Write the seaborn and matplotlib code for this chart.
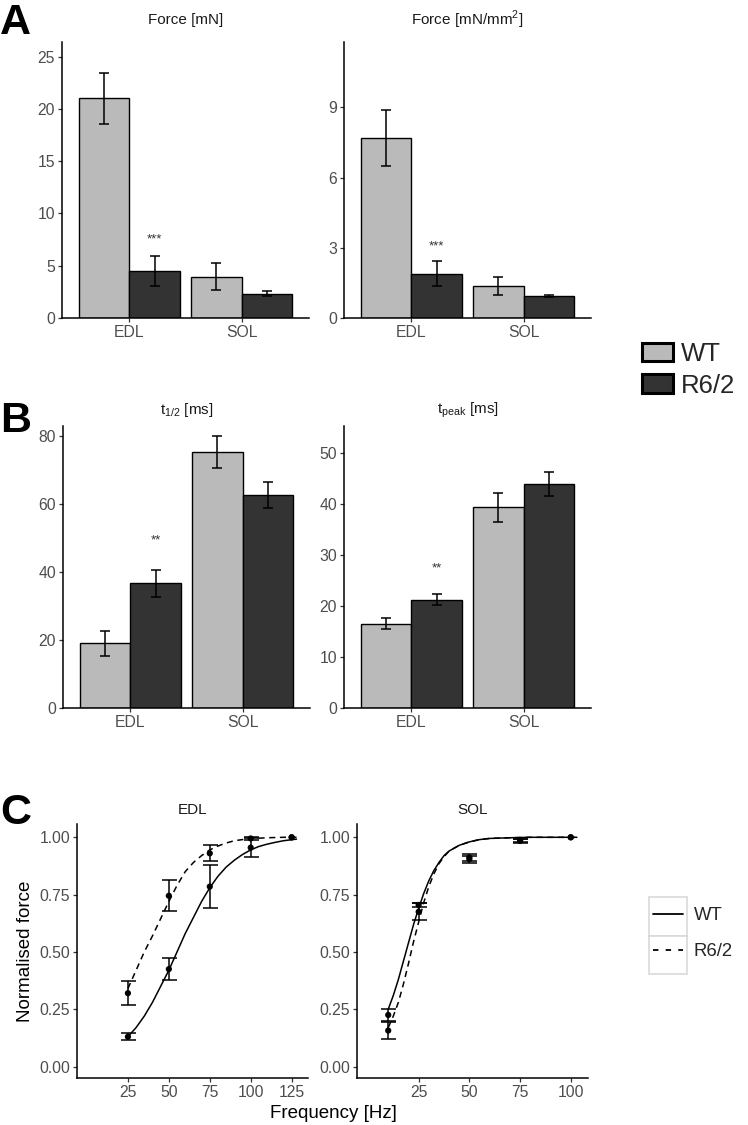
import numpy as np
import pandas as pd
import matplotlib
matplotlib.use("Agg")
import matplotlib.pyplot as plt
import seaborn as sns
from matplotlib.patches import Patch, Rectangle
from matplotlib.lines import Line2D

# ---- data ----
muscles = ["EDL", "SOL"]
genotypes = ["WT", "R6/2"]

force_wt = [21.0, 3.95]
force_wt_err = [2.45, 1.28]
force_r62 = [4.5, 2.33]
force_r62_err = [1.4, 0.24]

spec_force_wt = [7.70, 1.37]
spec_force_wt_err = [1.19, 0.39]
spec_force_r62 = [1.89, 0.94]
spec_force_r62_err = [0.53, 0.06]

thalf_wt = [19.0, 75.4]
thalf_wt_err = [3.6, 4.8]
thalf_r62 = [36.7, 62.8]
thalf_r62_err = [4.0, 3.85]

tpeak_wt = [16.5, 39.3]
tpeak_wt_err = [1.05, 2.85]
tpeak_r62 = [21.2, 43.8]
tpeak_r62_err = [1.1, 2.35]

# frequency-force data
edl_freq = [25, 50, 75, 100, 125]
edl_wt_mean = [0.13, 0.425, 0.785, 0.955, 1.0]
edl_wt_err = [0.015, 0.048, 0.093, 0.042, 0.0]
edl_r62_mean = [0.32, 0.745, 0.93, 0.995, 1.0]
edl_r62_err = [0.053, 0.067, 0.035, 0.008, 0.0]

sol_freq = [10, 25, 50, 75, 100]
sol_wt_mean = [0.225, 0.705, 0.912, 0.985, 1.0]
sol_wt_err = [0.027, 0.01, 0.017, 0.008, 0.0]
sol_r62_mean = [0.157, 0.675, 0.905, 0.985, 1.0]
sol_r62_err = [0.038, 0.037, 0.015, 0.006, 0.0]

# fitted curves
edl_fit_x = [25, 30, 35, 40, 45, 50, 55, 60, 65, 70, 75, 80, 85, 90, 95, 100, 105, 110, 115, 120, 128]
edl_wt_fit = [0.13, 0.17, 0.22, 0.28, 0.35, 0.42, 0.50, 0.58, 0.65, 0.72, 0.78, 0.83, 0.87, 0.90,
              0.925, 0.945, 0.96, 0.97, 0.978, 0.985, 0.992]
edl_r62_fit = [0.34, 0.42, 0.50, 0.57, 0.645, 0.72, 0.79, 0.85, 0.89, 0.92, 0.945, 0.962, 0.975,
               0.985, 0.99, 0.994, 0.996, 0.998, 0.999, 1.0, 1.0]

sol_fit_x = [10, 12.5, 15, 17.5, 20, 22.5, 25, 27.5, 30, 32.5, 35, 37.5, 40, 45, 50, 55, 60, 70, 80, 103]
sol_wt_fit = [0.25, 0.31, 0.38, 0.46, 0.54, 0.62, 0.69, 0.755, 0.81, 0.855, 0.89, 0.92, 0.94,
              0.965, 0.98, 0.99, 0.995, 0.998, 1.0, 1.0]
sol_r62_fit = [0.17, 0.22, 0.28, 0.36, 0.45, 0.545, 0.63, 0.715, 0.785, 0.84, 0.885, 0.915, 0.94,
               0.965, 0.98, 0.99, 0.995, 0.998, 1.0, 1.0]

# ---- style ----
sns.set_theme(style="ticks")
plt.rcParams["font.family"] = ["Liberation Sans", "DejaVu Sans"]
plt.rcParams["mathtext.fontset"] = "custom"
plt.rcParams["mathtext.rm"] = "Liberation Sans"

palette = {"WT": "#bababa", "R6/2": "#333333"}
TICK_TXT = "#4d4d4d"
TITLE_TXT = "#1a1a1a"

W, H = 748, 1125
fig = plt.figure(figsize=(W / 100, H / 100), dpi=100)


def px_axes(x0, x1, y0, y1):
    return fig.add_axes([x0 / W, 1 - y1 / H, (x1 - x0) / W, (y1 - y0) / H])


def style_axes(ax):
    sns.despine(ax=ax)
    for s in ["left", "bottom"]:
        ax.spines[s].set_linewidth(1.1)
        ax.spines[s].set_color("black")
    ax.tick_params(direction="out", length=3, width=0.9, color="#333333",
                   labelcolor=TICK_TXT, labelsize=11.3, pad=2)


def bar_panel(ax, wt, wt_err, r62, r62_err, ylim, yticks, title, title_y, star, star_y):
    df = pd.DataFrame({
        "Muscle": muscles * 2,
        "Genotype": ["WT"] * 2 + ["R6/2"] * 2,
        "value": wt + r62,
        "err": wt_err + r62_err,
    })
    sns.barplot(data=df, x="Muscle", y="value", hue="Genotype", hue_order=genotypes,
                order=muscles, palette=palette, width=0.9, gap=0, errorbar=None,
                edgecolor="black", linewidth=1.0, legend=False, ax=ax)
    for cont, g in zip(ax.containers, genotypes):
        sub = df[df["Genotype"] == g].set_index("Muscle").loc[muscles]
        xs = [b.get_x() + b.get_width() / 2 for b in cont]
        ax.errorbar(xs, sub["value"], yerr=sub["err"], fmt="none", ecolor="black",
                    elinewidth=1.1, capsize=3.3, capthick=1.1, zorder=5)
        if g == "R6/2":
            ax.text(xs[0], star_y, star, ha="center", va="center", fontsize=9.5,
                    color="#333333")
    ax.set_xlim(-0.6, 1.6)
    ax.set_ylim(*ylim)
    ax.set_yticks(yticks)
    ax.set_xlabel("")
    ax.set_ylabel("")
    ax.text(0.5, title_y, title, transform=ax.transAxes, ha="center", va="center",
            fontsize=11, color=TITLE_TXT)
    style_axes(ax)


# ---- panel A ----
axA1 = px_axes(62, 309, 42, 318)
bar_panel(axA1, force_wt, force_wt_err, force_r62, force_r62_err, (0, 26.4),
          [0, 5, 10, 15, 20, 25], "Force [mN]", 1.08, "***", 7.5)
axA2 = px_axes(344, 591, 42, 318)
bar_panel(axA2, spec_force_wt, spec_force_wt_err, spec_force_r62, spec_force_r62_err,
          (0, 11.8), [0, 3, 6, 9], r"Force [mN/mm$^{\mathregular{2}}$]", 1.08, "***", 3.05)

# ---- panel B ----
axB1 = px_axes(63, 310, 426, 708)
bar_panel(axB1, thalf_wt, thalf_wt_err, thalf_r62, thalf_r62_err, (0, 83),
          [0, 20, 40, 60, 80], r"t$_{\mathregular{1/2}}$ [ms]", 1.055, "**", 49.4)
axB2 = px_axes(344, 591, 426, 708)
bar_panel(axB2, tpeak_wt, tpeak_wt_err, tpeak_r62, tpeak_r62_err, (0, 55.2),
          [0, 10, 20, 30, 40, 50], r"t$_{\mathregular{peak}}$ [ms]", 1.055, "**", 27.4)

bar_handles = [Patch(facecolor=palette[g], edgecolor="black", linewidth=2.2) for g in genotypes]
fig.legend(bar_handles, genotypes, loc="upper left", bbox_to_anchor=(642 / W, 1 - 342 / H),
           frameon=False, fontsize=18.5, borderpad=0, borderaxespad=0,
           handlelength=1.22, handleheight=0.75, handletextpad=0.3, labelspacing=0.3)


# ---- panel C ----
def curve_panel(ax, freq, wt, wt_err, r62, r62_err, fit_x, wt_fit, r62_fit, xlim, xticks, title):
    sns.lineplot(x=fit_x, y=wt_fit, ax=ax, color="black", linewidth=1.1)
    sns.lineplot(x=fit_x, y=r62_fit, ax=ax, color="black", linewidth=1.1,
                 linestyle=(0, (4, 3)))
    for m, e in [(wt, wt_err), (r62, r62_err)]:
        f = np.array(freq)
        m = np.array(m)
        e = np.array(e)
        keep = e > 0
        ax.errorbar(f[keep], m[keep], yerr=e[keep], fmt="none", ecolor="black",
                    elinewidth=1.1, capsize=5.4, capthick=1.1, zorder=4)
        sns.scatterplot(x=f, y=m, ax=ax, color="black", s=20, edgecolor="none", zorder=5)
    ax.set_xlim(*xlim)
    ax.set_ylim(-0.05, 1.058)
    ax.set_xticks(xticks)
    ax.set_yticks([0, 0.25, 0.5, 0.75, 1.0])
    ax.set_yticklabels(["0.00", "0.25", "0.50", "0.75", "1.00"])
    ax.set_xlabel("")
    ax.set_ylabel("")
    ax.text(0.5, 1.055, title, transform=ax.transAxes, ha="center", va="center",
            fontsize=11, color=TITLE_TXT)
    style_axes(ax)


axC1 = px_axes(77, 308, 824, 1078)
curve_panel(axC1, edl_freq, edl_wt_mean, edl_wt_err, edl_r62_mean, edl_r62_err,
            edl_fit_x, edl_wt_fit, edl_r62_fit, (-6.1, 135), [25, 50, 75, 100, 125], "EDL")
axC1.set_ylabel("Normalised force", fontsize=13.5, color="black", labelpad=4)

axC2 = px_axes(357, 588, 824, 1078)
curve_panel(axC2, sol_freq, sol_wt_mean, sol_wt_err, sol_r62_mean, sol_r62_err,
            sol_fit_x, sol_wt_fit, sol_r62_fit, (-5.4, 108.5), [25, 50, 75, 100], "SOL")

fig.text(333 / W, 1 - 1113 / H, "Frequency [Hz]", ha="center", va="center",
         fontsize=13.5, color="black")

# legend for panel C with grey key boxes
for y0, y1 in [(897, 936), (936, 974)]:
    fig.add_artist(Rectangle((649 / W, 1 - y1 / H), 38 / W, (y1 - y0) / H,
                             transform=fig.transFigure, facecolor="white",
                             edgecolor="#d9d9d9", linewidth=1.2))
line_handles = [Line2D([], [], color="black", linewidth=1.3),
                Line2D([], [], color="black", linewidth=1.3, linestyle=(0, (3, 4)))]
fig.legend(line_handles, genotypes, loc="upper left", bbox_to_anchor=(653 / W, 1 - 907 / H),
           frameon=False, fontsize=13.3, borderpad=0, borderaxespad=0,
           handlelength=1.65, handletextpad=0.55, labelspacing=1.05)

# panel letters
for letter, ypx in [("A", 3), ("B", 401), ("C", 793)]:
    fig.text(0, 1 - ypx / H, letter, ha="left", va="top", fontsize=31,
             fontweight="bold", color="black")

fig.savefig("out.png", dpi=100)
